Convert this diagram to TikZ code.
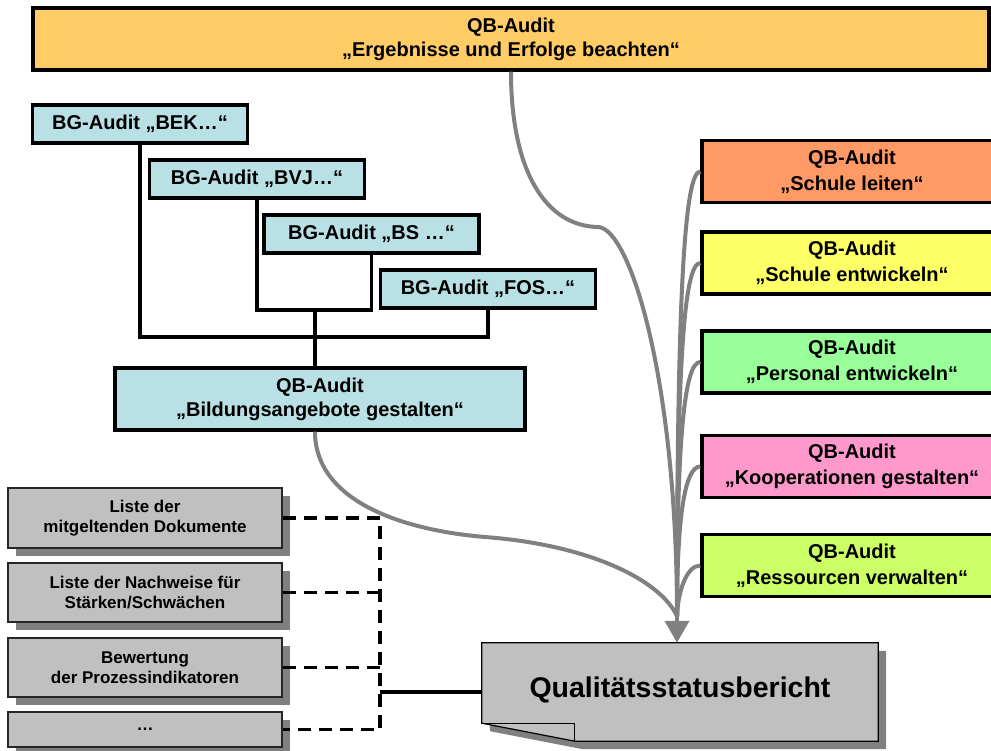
\documentclass[tikz,border=0pt]{standalone}
\usepackage{fontspec}
\setmainfont{Liberation Sans}
\usetikzlibrary{arrows.meta,shadows,calc}

\definecolor{topfill}{RGB}{255,204,102}
\definecolor{bgfill}{RGB}{185,224,228}
\definecolor{leitfill}{RGB}{255,153,102}
\definecolor{entwfill}{RGB}{255,255,102}
\definecolor{persfill}{RGB}{153,255,153}
\definecolor{koopfill}{RGB}{255,153,204}
\definecolor{ressfill}{RGB}{204,255,102}
\definecolor{boxgray}{RGB}{192,192,192}
\definecolor{shadowgray}{RGB}{128,128,128}
\definecolor{flowgray}{RGB}{128,128,128}

\begin{document}
\begin{tikzpicture}[x=1pt,y=-1pt,
  qb/.style={draw=black, line width=3.4pt, align=center, inner sep=0pt,
             font=\bfseries\fontsize{20}{24}\selectfont},
  qbright/.style={qb, minimum width=300pt, minimum height=62pt,
             font=\bfseries\fontsize{20}{26}\selectfont},
  bgbox/.style={qb, fill=bgfill, minimum width=215pt, minimum height=38pt},
  docbox/.style={fill=boxgray, draw=black!85, line width=1.5pt, align=center,
             inner sep=0pt, minimum width=274pt,
             font=\bfseries\fontsize{17}{20}\selectfont,
             drop shadow={shadow xshift=8pt, shadow yshift=-8pt,
                          fill=shadowgray, opacity=1}},
  tree/.style={draw=black, line width=3.2pt},
  flow/.style={draw=flowgray, line width=4pt},
  dashline/.style={draw=black, line width=3.2pt, dash pattern=on 13pt off 8pt},
  solidline/.style={draw=black, line width=3.2pt}
]
\useasboundingbox (0,0) rectangle (991,751);

% process audits
\node[qb, fill=topfill, minimum width=956pt, minimum height=62pt] (top) at (511,39)
  {QB-Audit\\„Ergebnisse und Erfolge beachten“};

\node[qbright, fill=leitfill] (leit) at (852,171.5) {QB-Audit\\„Schule leiten“};
\node[qbright, fill=entwfill] (entw) at (852,263) {QB-Audit\\„Schule entwickeln“};
\node[qbright, fill=persfill] (pers) at (852,362) {QB-Audit\\„Personal entwickeln“};
\node[qbright, fill=koopfill] (koop) at (852,466.5) {QB-Audit\\„Kooperationen gestalten“};
\node[qbright, fill=ressfill] (ress) at (852,565.5) {QB-Audit\\„Ressourcen verwalten“};

% educational programme audits
\node[bgbox] (bek) at (140,124) {BG-Audit „BEK…“};
\node[bgbox] (bvj) at (257,179) {BG-Audit „BVJ…“};
\node[bgbox] (bs)  at (371.5,234) {BG-Audit „BS …“};
\node[bgbox] (fos) at (488,289) {BG-Audit „FOS…“};

\node[qb, fill=bgfill, minimum width=410pt, minimum height=62pt] (bild) at (320,399)
  {QB-Audit\\„Bildungsangebote gestalten“};

\coordinate (j1) at (315,310);
\coordinate (j2) at (315,337);
\draw[tree] (bvj.south) |- (j1) -| (bs.south);
\draw[tree] (bek.south) |- (j2) -| (fos.south);
\draw[tree] (j1) -- (bild.north -| j1);

% supporting documents
\node[docbox, minimum height=60pt] (g1) at (145,518) {Liste der\\mitgeltenden Dokumente};
\node[docbox, minimum height=59pt] (g2) at (145,592.5) {Liste der Nachweise für\\Stärken/Schwächen};
\node[docbox, minimum height=59pt] (g3) at (145,667.5) {Bewertung\\der Prozessindikatoren};
\node[docbox, minimum height=35pt] (g4) at (145,729.5) {…};

% report (folded-corner document)
\node[minimum width=396pt, minimum height=98pt, inner sep=0pt] (qsb) at (680,692) {};
\fill[shadowgray]
  ($(qsb.north west)+(8,8)$) -- ($(qsb.north east)+(8,8)$) --
  ($(qsb.south east)+(8,8)$) -- ($(qsb.south west)+(101,8)$) --
  ($(qsb.south west)+(8,-10)$) -- cycle;
\filldraw[fill=boxgray, draw=black, line width=1.2pt]
  (qsb.north west) -- (qsb.north east) -- (qsb.south east) --
  ($(qsb.south west)+(93,0)$) -- ($(qsb.south west)+(0,-18)$) -- cycle;
\draw[black, line width=1.2pt]
  ($(qsb.south west)+(0,-18)$) -- ($(qsb.south west)+(93,-18)$) -- ($(qsb.south west)+(93,0)$);
\node[font=\bfseries\fontsize{28.5}{32}\selectfont, text height=24pt, text depth=14pt,
      inner sep=0pt] (qsblabel) at (qsb.center) {Qualitätsstatusbericht};

% document links
\coordinate (busx) at (380,0);
\draw[dashline] (g1.east) -- (g1.east -| busx) -- (g4.east -| busx) -- (g4.east);
\draw[dashline] (g2.east) -- (g2.east -| busx);
\draw[dashline] (g3.east) -- (g3.east -| busx);
\draw[solidline] (qsb.west -| busx) -- (qsb.west);

% flows into the report
\coordinate (conv) at (677,616);
\draw[flow] (top.south) .. controls (511,170) and (545,226) .. (598,227)
            .. controls (630,228) and (677,380) .. (conv);
\draw[flow] (bild.south -| j1) .. controls (315,500) and (400,530) .. (485,537)
            .. controls (590,545) and (660,580) .. (conv);
\draw[flow] (leit.west) .. controls ($(leit.west)+(-16,0)$) and (677,300) .. (conv);
\draw[flow] (entw.west) .. controls ($(entw.west)+(-16,0)$) and (677,360) .. (conv);
\draw[flow] (pers.west) .. controls ($(pers.west)+(-16,0)$) and (677,440) .. (conv);
\draw[flow] (koop.west) .. controls ($(koop.west)+(-16,0)$) and (677,520) .. (conv);
\draw[flow] (ress.west) .. controls ($(ress.west)+(-14,0)$) and (678,592) .. (conv);
\draw[flow, -{Triangle[length=22pt,width=24pt]}] (conv) -- (qsb.north -| conv);
\end{tikzpicture}
\end{document}
